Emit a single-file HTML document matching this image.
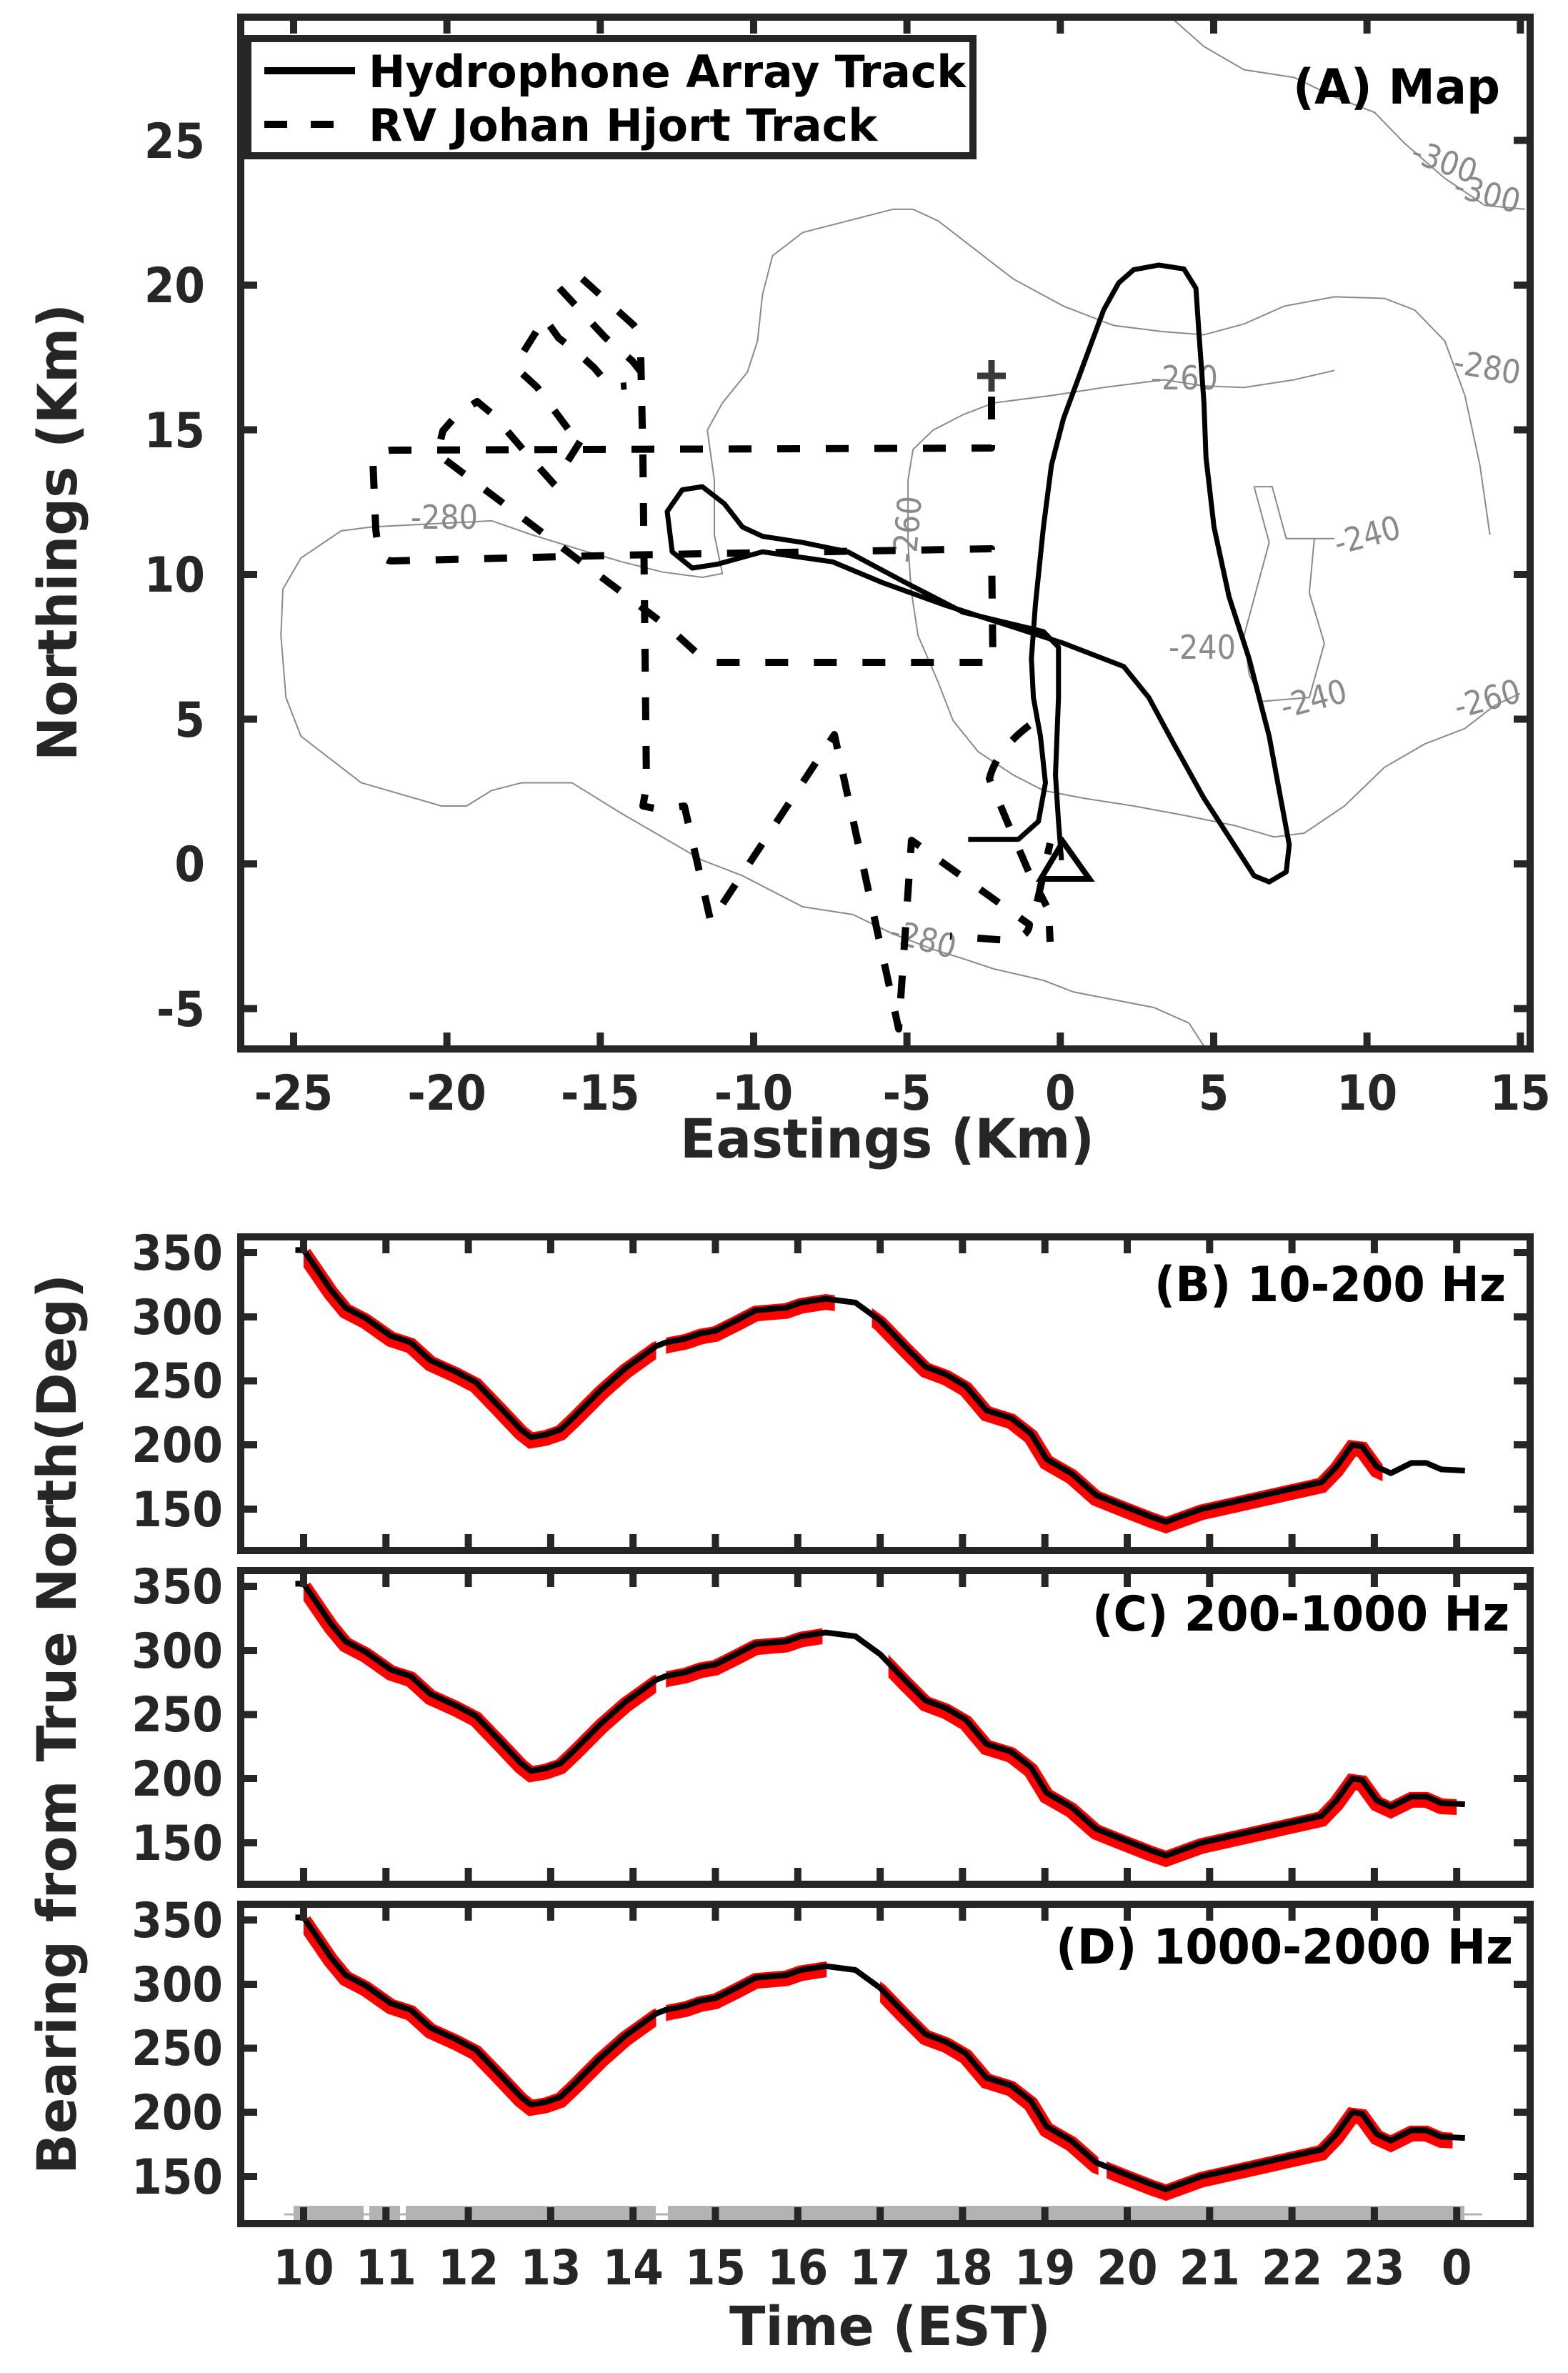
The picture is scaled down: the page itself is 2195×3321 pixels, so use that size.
<!DOCTYPE html>
<html><head><meta charset="utf-8"><style>
html,body{margin:0;padding:0;background:#fff}
svg{display:block}
text{font-family:"DejaVu Sans Condensed","DejaVu Sans","Liberation Sans",sans-serif;font-stretch:condensed;font-weight:bold;fill:#262626}
.ct{font-weight:normal;fill:#8a8a8a;font-size:46px}
.tk{font-size:68px}
</style></head><body>
<svg width="2195" height="3321" viewBox="0 0 2195 3321" xmlns="http://www.w3.org/2000/svg">
<rect width="2195" height="3321" fill="#fff"/>
<defs>
<polyline id="cv" fill="none" points="10.0,352 10.33,321 10.51,307 10.75,299 11.06,285 11.3,280 11.54,266 11.85,257 12.09,249 12.39,229 12.64,212 12.76,206 12.94,208 13.12,212 13.3,223 13.61,243 13.91,260 14.28,277 14.4,280 14.64,283 14.82,287 15.0,289 15.25,297 15.49,305 15.86,307 16.04,311 16.34,314 16.7,311 17.0,297 17.3,277 17.55,261 17.8,255 18.04,246 18.29,227 18.59,221 18.83,209 19.02,189 19.32,178 19.62,161 19.93,153 20.29,144 20.47,140 20.9,150 21.39,157 21.94,165 22.36,171 22.54,183 22.73,200 22.85,199 23.03,183 23.2,178 23.45,186 23.63,186 23.81,181 24.1,180"/>
<clipPath id="rb" clipPathUnits="userSpaceOnUse"><rect x="10" y="0" width="4.28" height="400"/><rect x="14.4" y="0" width="2.05" height="400"/><rect x="16.9" y="0" width="6.2" height="400"/></clipPath>
<clipPath id="rc" clipPathUnits="userSpaceOnUse"><rect x="10" y="0" width="4.28" height="400"/><rect x="14.4" y="0" width="1.9" height="400"/><rect x="17.1" y="0" width="6.9" height="400"/></clipPath>
<clipPath id="rd" clipPathUnits="userSpaceOnUse"><rect x="10" y="0" width="4.28" height="400"/><rect x="14.4" y="0" width="1.95" height="400"/><rect x="17.0" y="0" width="2.65" height="400"/><rect x="19.75" y="0" width="4.2" height="400"/></clipPath>
</defs>

<!-- ============ MAP ============ -->
<g fill="none" stroke="#8a8a8a" stroke-width="2" transform="scale(1.4045 1.0846)">
<path vector-effect="non-scaling-stroke" d="M1200,1350 L1185,1320 L1150,1300 L1110,1290 L1070,1280 L1040,1265 L990,1250 L960,1237 L930,1225 L890,1205 L850,1180 L800,1170 L740,1130 L700,1110 L660,1080 L620,1050 L570,1010 L520,1010 L490,1020 L465,1040 L440,1040 L400,1025 L360,1010 L330,980 L300,950 L285,900 L280,820 L282,760 L300,720 L340,685 L370,680 L490,672 L530,690 L580,710 L620,725 L660,738 L700,745 L720,740 L712,690 L712,620 L705,555 L720,520 L745,480 L755,440 L760,380 L770,330 L800,300 L830,290 L860,280 L890,270 L910,270 L935,285 L970,320 L1010,360 L1060,395 L1110,420 L1160,428 L1200,432 L1240,418 L1280,395 L1330,383 L1380,385 L1410,400 L1440,440 L1460,510 L1475,600 L1485,690"/>
<path vector-effect="non-scaling-stroke" d="M1330,478 L1290,490 L1240,500 L1200,498 L1160,490 L1100,500 L1050,510 L990,520 L960,535 L930,555 L910,580 L905,620 L905,700 L908,760 L915,820 L935,880 L950,930 L975,970 L1010,1000 L1040,1020 L1080,1030 L1130,1040 L1180,1052 L1230,1065 L1270,1080 L1300,1075 L1340,1040 L1380,990 L1420,960 L1460,940 L1490,910 L1515,895"/>
<path vector-effect="non-scaling-stroke" d="M1165,20 L1200,60 L1240,90 L1290,100 L1330,125 L1370,145 L1400,185 L1440,230 L1480,265 L1520,270"/>
<path vector-effect="non-scaling-stroke" d="M1250,628 L1268,628 L1282,695 L1330,695 M1310,695 L1305,765 L1320,830 L1305,900 L1258,905 L1245,870 L1240,820 L1265,700 L1250,628"/>
</g>
<g class="ct">
<text class="ct" x="622" y="740" text-anchor="middle">-280</text>
<text class="ct" x="1292" y="1330" text-anchor="middle" transform="rotate(15 1292 1315)">-280</text>
<text class="ct" x="1270" y="757" text-anchor="middle" transform="rotate(-85 1270 741)">-260</text>
<text class="ct" x="1658" y="545" text-anchor="middle">-260</text>
<text class="ct" x="2082" y="530" text-anchor="middle" transform="rotate(10 2082 514)">-280</text>
<text class="ct" x="2022" y="242" text-anchor="middle" transform="rotate(20 2022 226)">-300</text>
<text class="ct" x="2082" y="287" text-anchor="middle" transform="rotate(15 2082 271)">-300</text>
<text class="ct" x="1914" y="765" text-anchor="middle" transform="rotate(-15 1914 749)">-240</text>
<text class="ct" x="1683" y="922" text-anchor="middle">-240</text>
<text class="ct" x="1839" y="994" text-anchor="middle" transform="rotate(-15 1839 978)">-240</text>
<text class="ct" x="2082" y="994" text-anchor="middle" transform="rotate(-15 2082 978)">-260</text>
</g>

<!-- RV dashed track -->
<g fill="none" stroke="#000" stroke-width="10" stroke-dasharray="32 36" stroke-linejoin="round">
<path d="M1388,555 L1388,627 L548,630 Q522,632 522,645 L526,740 Q530,785 548,785 L870,777 L1388,768 L1390,927 L990,927 L937,879 L612,635 L620,603 L640,580 L668,562 L690,580 L733,630 L775,677 L790,692"/>
<path d="M795,600 L752,542 L728,520 L725,505 L750,465 L762,445 L782,473 L808,493 L832,515 L855,542 L877,540"/>
<path d="M783,403 L847,472 L885,505 L897,520"/>
<path d="M815,390 L887,455 L905,478"/>
<path d="M795,645 L812,618"/>
<path d="M897,500 L900,640 L905,1100 L900,1128 L925,1133 L958,1128 L995,1290 L1168,1028 L1258,1440 L1276,1176 L1441,1294 Q1440,1312 1410,1316 L1330,1310"/>
<path d="M1441,1015 Q1395,1050 1385,1090 L1410,1150 L1440,1220 L1465,1268"/>
<path d="M1452,1262 L1470,1180"/>
<path d="M1469,1296 L1470,1318" stroke-dasharray="none"/>
</g>

<!-- Hydrophone solid track -->
<g transform="scale(1.4045 1.0846)" fill="none" stroke="#000" stroke-width="7" stroke-linejoin="round">
<path vector-effect="non-scaling-stroke" d="M965,1083 L1015,1083 L1035,1060 L1042,1010 L1037,950 L1030,900 L1028,850 L1032,780 L1040,680 L1048,600 L1060,540 L1080,470 L1100,400 L1115,365 L1130,348 L1155,342 L1180,347 L1192,372 L1195,430 L1200,520 L1202,590 L1210,680 L1225,770 L1245,850 L1265,950 L1285,1090 L1282,1125 L1265,1138 L1250,1130 L1235,1100 L1200,1030 L1170,960 L1145,900 L1120,860 L1060,830 L1000,805 L940,780 L880,752 L830,725 L760,712 L715,728 L690,733 L670,712 L665,660 L680,632 L700,628 L722,650 L740,680 L760,692 L800,700 L845,712 L900,750 L960,790 L1040,815 L1055,835 L1055,900 L1052,1000 L1055,1060 L1058,1110"/>
</g>
<!-- plus & triangle -->
<g stroke="#3a3a3a" stroke-width="9" fill="none">
<line x1="1368" y1="526" x2="1408" y2="526"/><line x1="1388" y1="504" x2="1388" y2="548"/>
</g>
<polygon points="1457,1230 1525,1230 1488,1178" fill="none" stroke="#000" stroke-width="8"/>

<!-- map frame + ticks -->
<g stroke="#262626" stroke-width="10" fill="none">
<rect x="337" y="24" width="1805" height="1444"/>
<path d="M411,29 v18 M625.6,29 v18 M840.3,29 v18 M1055,29 v18 M1269.6,29 v18 M1484.3,29 v18 M1699,29 v18 M1913.6,29 v18 M2128.3,29 v18
M411,1463 v-18 M625.6,1463 v-18 M840.3,1463 v-18 M1055,1463 v-18 M1269.6,1463 v-18 M1484.3,1463 v-18 M1699,1463 v-18 M1913.6,1463 v-18 M2128.3,1463 v-18
M342,1411.5 h18 M342,1209 h18 M342,1006.5 h18 M342,804 h18 M342,601.5 h18 M342,399 h18 M342,196.5 h18
M2137,1411.5 h-18 M2137,1209 h-18 M2137,1006.5 h-18 M2137,804 h-18 M2137,601.5 h-18 M2137,399 h-18 M2137,196.5 h-18"/>
</g>
<!-- legend -->
<rect x="347" y="54" width="1015" height="164" fill="#fff" stroke="#262626" stroke-width="10"/>
<line x1="370" y1="99" x2="497" y2="99" stroke="#000" stroke-width="10"/>
<line x1="370" y1="174" x2="497" y2="174" stroke="#000" stroke-width="10" stroke-dasharray="32 33"/>
<text x="516" y="122" font-size="62" textLength="836" lengthAdjust="spacingAndGlyphs" style="fill:#000">Hydrophone Array Track</text>
<text x="516" y="197" font-size="62" textLength="712" lengthAdjust="spacingAndGlyphs" style="fill:#000">RV Johan Hjort Track</text>
<text x="2100" y="145" font-size="68" text-anchor="end" textLength="290" lengthAdjust="spacingAndGlyphs" style="fill:#000">(A) Map</text>

<g class="tk" text-anchor="end">
<text class="tk" x="287" y="221">25</text><text class="tk" x="287" y="423">20</text><text class="tk" x="287" y="626">15</text>
<text class="tk" x="287" y="828">10</text><text class="tk" x="287" y="1031">5</text><text class="tk" x="287" y="1233">0</text><text class="tk" x="287" y="1436">-5</text>
</g>
<g text-anchor="middle">
<text class="tk" x="411" y="1553" text-anchor="middle">-25</text><text class="tk" x="625.6" y="1553" text-anchor="middle">-20</text>
<text class="tk" x="840.3" y="1553" text-anchor="middle">-15</text><text class="tk" x="1055" y="1553" text-anchor="middle">-10</text>
<text class="tk" x="1269.6" y="1553" text-anchor="middle">-5</text><text class="tk" x="1484.3" y="1553" text-anchor="middle">0</text>
<text class="tk" x="1699" y="1553" text-anchor="middle">5</text><text class="tk" x="1913.6" y="1553" text-anchor="middle">10</text>
<text class="tk" x="2128.3" y="1553" text-anchor="middle">15</text>
</g>
<text x="1242" y="1620" font-size="76" text-anchor="middle" textLength="580" lengthAdjust="spacingAndGlyphs">Eastings (Km)</text>
<text x="0" y="0" font-size="76" text-anchor="middle" textLength="640" lengthAdjust="spacingAndGlyphs" transform="translate(107 745) rotate(-90)">Northings (Km)</text>

<!-- ============ PANELS ============ -->
<line x1="398" y1="3099" x2="2075" y2="3099" stroke="#b3b3b3" stroke-width="3"/>
<g fill="#b3b3b3">
<rect x="411" y="3087" width="98" height="22"/><rect x="517" y="3087" width="43" height="22"/>
<rect x="568" y="3087" width="350" height="22"/><rect x="935" y="3087" width="1115" height="22"/>
</g>

<g transform="matrix(115.3 0 0 -1.795 -728 2381.25)">
<use href="#cv" stroke="#ff0000" stroke-width="22" clip-path="url(#rb)" transform="translate(0 -2.5)"/>
</g>
<g transform="matrix(115.3 0 0 -1.795 -728 2848.25)">
<use href="#cv" stroke="#ff0000" stroke-width="22" clip-path="url(#rc)" transform="translate(0 -2.5)"/>
</g>
<g transform="matrix(115.3 0 0 -1.795 -728 3315.25)">
<use href="#cv" stroke="#ff0000" stroke-width="22" clip-path="url(#rd)" transform="translate(0 -2.5)"/>
</g>
<g fill="none" stroke="#000" stroke-width="8" stroke-linejoin="round">
<g transform="matrix(115.3 0 0 -1.795 -728 2381.25)"><polyline vector-effect="non-scaling-stroke" points="9.9,352 10,352"/><use href="#cv"/></g>
<g transform="matrix(115.3 0 0 -1.795 -728 2848.25)"><polyline vector-effect="non-scaling-stroke" points="9.9,352 10,352"/><use href="#cv"/></g>
<g transform="matrix(115.3 0 0 -1.795 -728 3315.25)"><polyline vector-effect="non-scaling-stroke" points="9.9,352 10,352"/><use href="#cv"/></g>
</g>
<style>#cv{vector-effect:non-scaling-stroke}</style>

<g stroke="#262626" stroke-width="10" fill="none">
<rect x="337" y="1731" width="1805" height="439"/>
<rect x="337" y="2198" width="1805" height="439"/>
<rect x="337" y="2665" width="1805" height="447"/>
</g>
<g stroke="#262626" stroke-width="10" fill="none" id="tk1">
<path d="M425,1736 v18 M540.3,1736 v18 M655.6,1736 v18 M770.9,1736 v18 M886.2,1736 v18 M1001.5,1736 v18 M1116.8,1736 v18 M1232.1,1736 v18 M1347.4,1736 v18 M1462.7,1736 v18 M1578,1736 v18 M1693.3,1736 v18 M1808.6,1736 v18 M1923.9,1736 v18 M2039.2,1736 v18
M425,2165 v-18 M540.3,2165 v-18 M655.6,2165 v-18 M770.9,2165 v-18 M886.2,2165 v-18 M1001.5,2165 v-18 M1116.8,2165 v-18 M1232.1,2165 v-18 M1347.4,2165 v-18 M1462.7,2165 v-18 M1578,2165 v-18 M1693.3,2165 v-18 M1808.6,2165 v-18 M1923.9,2165 v-18 M2039.2,2165 v-18
M342,1753 h18 M342,1843 h18 M342,1932.5 h18 M342,2022 h18 M342,2112 h18
M2137,1753 h-18 M2137,1843 h-18 M2137,1932.5 h-18 M2137,2022 h-18 M2137,2112 h-18"/>
</g>
<use href="#tk1" transform="translate(0 467)"/>
<g stroke="#262626" stroke-width="10" fill="none">
<path d="M425,2670 v18 M540.3,2670 v18 M655.6,2670 v18 M770.9,2670 v18 M886.2,2670 v18 M1001.5,2670 v18 M1116.8,2670 v18 M1232.1,2670 v18 M1347.4,2670 v18 M1462.7,2670 v18 M1578,2670 v18 M1693.3,2670 v18 M1808.6,2670 v18 M1923.9,2670 v18 M2039.2,2670 v18
M425,3107 v-18 M540.3,3107 v-18 M655.6,3107 v-18 M770.9,3107 v-18 M886.2,3107 v-18 M1001.5,3107 v-18 M1116.8,3107 v-18 M1232.1,3107 v-18 M1347.4,3107 v-18 M1462.7,3107 v-18 M1578,3107 v-18 M1693.3,3107 v-18 M1808.6,3107 v-18 M1923.9,3107 v-18 M2039.2,3107 v-18
M342,2687 h18 M342,2777 h18 M342,2866.5 h18 M342,2956 h18 M342,3046 h18
M2137,2687 h-18 M2137,2777 h-18 M2137,2866.5 h-18 M2137,2956 h-18 M2137,3046 h-18"/>
</g>

<g id="yl">
<text class="tk" x="312" y="1777" text-anchor="end">350</text>
<text class="tk" x="312" y="1867" text-anchor="end">300</text>
<text class="tk" x="312" y="1956" text-anchor="end">250</text>
<text class="tk" x="312" y="2046" text-anchor="end">200</text>
<text class="tk" x="312" y="2136" text-anchor="end">150</text>
</g>
<use href="#yl" transform="translate(0 467)"/>
<use href="#yl" transform="translate(0 934)"/>

<text x="2108" y="1821" font-size="68" text-anchor="end" textLength="492" lengthAdjust="spacingAndGlyphs" style="fill:#000">(B) 10-200 Hz</text>
<text x="2113" y="2282" font-size="68" text-anchor="end" textLength="584" lengthAdjust="spacingAndGlyphs" style="fill:#000">(C) 200-1000 Hz</text>
<text x="2118" y="2748" font-size="68" text-anchor="end" textLength="640" lengthAdjust="spacingAndGlyphs" style="fill:#000">(D) 1000-2000 Hz</text>

<g>
<text class="tk" x="425" y="3197" text-anchor="middle">10</text><text class="tk" x="540.3" y="3197" text-anchor="middle">11</text>
<text class="tk" x="655.6" y="3197" text-anchor="middle">12</text><text class="tk" x="770.9" y="3197" text-anchor="middle">13</text>
<text class="tk" x="886.2" y="3197" text-anchor="middle">14</text><text class="tk" x="1001.5" y="3197" text-anchor="middle">15</text>
<text class="tk" x="1116.8" y="3197" text-anchor="middle">16</text><text class="tk" x="1232.1" y="3197" text-anchor="middle">17</text>
<text class="tk" x="1347.4" y="3197" text-anchor="middle">18</text><text class="tk" x="1462.7" y="3197" text-anchor="middle">19</text>
<text class="tk" x="1578" y="3197" text-anchor="middle">20</text><text class="tk" x="1693.3" y="3197" text-anchor="middle">21</text>
<text class="tk" x="1808.6" y="3197" text-anchor="middle">22</text><text class="tk" x="1923.9" y="3197" text-anchor="middle">23</text>
<text class="tk" x="2039.2" y="3197" text-anchor="middle">0</text>
</g>
<text x="1246" y="3282" font-size="76" text-anchor="middle" textLength="450" lengthAdjust="spacingAndGlyphs">Time (EST)</text>
<text x="0" y="0" font-size="76" text-anchor="middle" textLength="1260" lengthAdjust="spacingAndGlyphs" transform="translate(106 2413) rotate(-90)">Bearing from True North(Deg)</text>
</svg>
</body></html>
